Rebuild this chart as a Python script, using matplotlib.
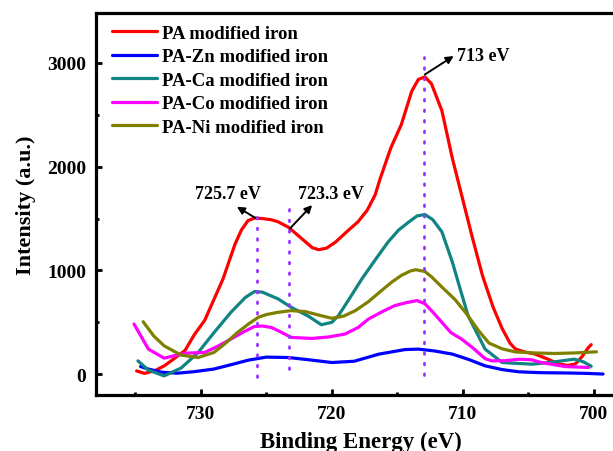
import matplotlib
matplotlib.use("Agg")
import matplotlib.pyplot as plt
from matplotlib.ticker import MultipleLocator

plt.rcParams['font.family'] = ['Liberation Serif', 'DejaVu Serif']
plt.rcParams['font.weight'] = 'bold'

# PA modified iron
pa_x = [734.9, 734.3, 733.5, 732.8, 732.2, 731.2, 730.5, 729.7, 729.0, 728.3, 727.4, 726.9,
        726.4, 725.9, 725.3, 724.6, 724.1, 723.3, 722.3, 721.5, 721.0, 720.4, 719.7, 718.8,
        718.0, 717.3, 716.7, 716.3, 715.5, 714.7, 713.9, 713.4, 712.9, 712.4, 711.6, 710.8,
        710.1, 709.3, 708.5, 707.7, 707.0, 706.4, 706.0, 705.3, 704.5, 703.5, 702.7, 702.0,
        701.4, 700.9, 700.4, 700.2]
pa_y = [32, 8, 35, 80, 135, 230, 380, 520, 720, 920, 1250, 1390,
        1480, 1505, 1500, 1488, 1469, 1415, 1307, 1220, 1200, 1215, 1275, 1380,
        1469, 1580, 1726, 1888, 2180, 2404, 2727, 2840, 2865, 2800, 2540, 2080,
        1730, 1330, 950, 650, 440, 300, 245, 215, 195, 145, 100, 85,
        100, 170, 260, 285]

# PA-Zn modified iron
zn_x = [734.6, 734.0, 733.0, 731.8, 730.5, 729.0, 727.6, 726.4, 725.0, 723.3, 721.8, 720.0,
        718.3, 716.4, 714.4, 713.4, 712.2, 710.8, 709.5, 708.3, 707.0, 705.7, 704.0, 702.0,
        700.5, 699.3]
zn_y = [74, 50, 20, 10, 25, 50, 95, 135, 165, 161, 140, 113,
        125, 194, 238, 242, 225, 194, 140, 81, 45, 23, 15, 12,
        8, 2]

# PA-Ca modified iron
ca_x = [734.8, 734.0, 732.8, 731.5, 730.2, 729.0, 727.7, 726.6, 725.9, 725.3, 724.1, 723.1,
        721.8, 720.8, 720.0, 719.5, 718.6, 717.7, 716.7, 715.7, 714.9, 714.1, 713.5, 712.9,
        712.3, 711.6, 710.8, 710.2, 709.6, 708.3, 707.0, 706.4, 704.7, 703.2, 701.5, 700.8, 700.2]
ca_y = [129, 40, -16, 60, 210, 400, 597, 740, 797, 791, 726, 645,
        560, 477, 500, 564, 740, 920, 1100, 1275, 1390, 1469, 1525, 1539,
        1490, 1372, 1081, 820, 564, 242, 113, 108, 97, 116, 145, 120, 77]

# PA-Co modified iron
co_x = [735.1, 734.0, 732.8, 731.2, 729.7, 728.7, 727.7, 726.7, 725.9, 725.3, 724.6, 724.1,
        723.1, 721.5, 720.2, 719.0, 718.0, 717.2, 716.2, 715.2, 714.3, 713.5, 712.9, 712.3,
        711.6, 710.9, 710.1, 709.2, 708.3, 707.8, 706.8, 705.7, 704.8, 704.0, 702.2, 700.4]
co_y = [484, 242, 155, 203, 210, 270, 339, 410, 460, 465, 450, 420,
        355, 345, 360, 387, 450, 532, 600, 661, 690, 710, 680, 600,
        500, 400, 339, 250, 150, 129, 130, 145, 140, 113, 74, 65]

# PA-Ni modified iron
ni_x = [734.4, 733.6, 732.8, 731.5, 730.2, 729.0, 728.1, 727.2, 726.3, 725.6, 725.0, 724.1,
        723.1, 722.0, 721.0, 720.0, 719.1, 718.2, 717.2, 716.2, 715.4, 714.7, 714.0, 713.6,
        712.9, 712.4, 711.6, 710.6, 709.7, 708.8, 708.0, 707.0, 706.0, 704.5, 703.0, 701.5, 699.8]
ni_y = [506, 370, 274, 184, 161, 210, 300, 403, 490, 549, 575, 597,
        613, 603, 570, 539, 560, 613, 700, 807, 890, 952, 995, 1007,
        990, 940, 840, 720, 580, 420, 300, 245, 215, 205, 200, 205, 216]

series = [
    ("PA modified iron", pa_x, pa_y, "#ff0000"),
    ("PA-Zn modified iron", zn_x, zn_y, "#0000ff"),
    ("PA-Ca modified iron", ca_x, ca_y, "#108484"),
    ("PA-Co modified iron", co_x, co_y, "#ff00ff"),
    ("PA-Ni modified iron", ni_x, ni_y, "#808000"),
]

# dotted guide lines: position, bottom, top
guide_x = [725.7, 723.3, 713.0]
guide_lo = [-30, 50, -10]
guide_hi = [1530, 1650, 3060]

# peak labels: text, text pos, arrow tail, arrow head
peak_labels = ["725.7 eV", "723.3 eV", "713 eV"]
label_xy = [(727.95, 1738), (720.1, 1738), (710.45, 3069)]
arrow_from = [(725.85, 1507), (723.2, 1404), (712.9, 2888)]
arrow_to = [(727.25, 1614), (721.5, 1630), (710.7, 3066)]

fig = plt.figure(figsize=(6.13, 4.52), dpi=100)
ax = fig.add_axes([0.1566, 0.1239, 0.8656, 0.845])

for name, xs, ys, col in series:
    ax.plot(xs, ys, color=col, lw=2.3, label=name, solid_capstyle='round',
            solid_joinstyle='round')

for gx, lo, hi in zip(guide_x, guide_lo, guide_hi):
    ax.plot([gx, gx], [lo, hi], color='#9933ff', lw=2, linestyle=(0, (0.6, 3.2)),
            dash_capstyle='round')

for txt, (tx, ty), p0, p1 in zip(peak_labels, label_xy, arrow_from, arrow_to):
    ax.annotate("", xy=p1, xytext=p0,
                arrowprops=dict(arrowstyle='-|>', color='black', lw=1.4,
                                mutation_scale=11, shrinkA=0, shrinkB=0))
    ha = 'left' if txt == "713 eV" else 'center'
    ax.text(tx, ty, txt, fontsize=13, fontweight='bold', ha=ha, va='center')

ax.set_xlim(738, 697.5)
ax.set_ylim(-200, 3480)
ax.xaxis.set_major_locator(MultipleLocator(10))
ax.xaxis.set_minor_locator(MultipleLocator(5))
ax.yaxis.set_major_locator(MultipleLocator(1000))
ax.yaxis.set_minor_locator(MultipleLocator(500))
ax.tick_params(which='major', direction='in', length=4, width=2, labelsize=14, pad=7)
ax.tick_params(which='minor', direction='in', length=2.5, width=2)
ax.tick_params(top=False, right=False, which='both')
for lab in ax.get_xticklabels() + ax.get_yticklabels():
    lab.set_fontweight('bold')
for sp in ax.spines.values():
    sp.set_linewidth(2.3)

ax.set_xlabel("Binding Energy (eV)", fontsize=16.5, fontweight='bold', labelpad=6.5)
ax.set_ylabel("Intensity (a.u.)", fontsize=16, fontweight='bold', labelpad=8)

ax.legend(loc='upper left', bbox_to_anchor=(0.03, 0.97), frameon=False,
          borderpad=0, borderaxespad=0, handlelength=2.4, handletextpad=0.25,
          labelspacing=0.34, prop={'size': 13.5, 'weight': 'bold'})

fig.savefig("out.png", dpi=100)
